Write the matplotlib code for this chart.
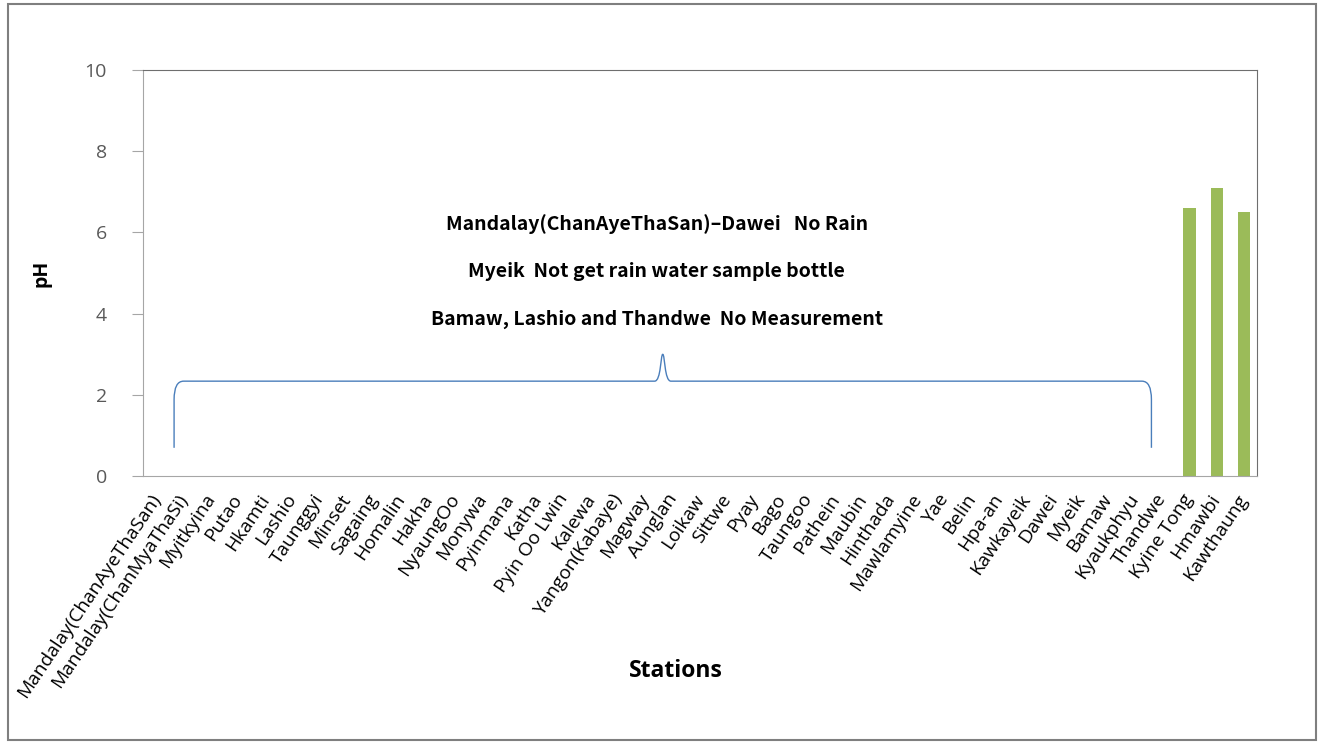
import matplotlib
matplotlib.use("Agg")
import matplotlib.pyplot as plt
from matplotlib.path import Path
from matplotlib.patches import PathPatch, Rectangle

stations = ["Mandalay(ChanAyeThaSan)", "Mandalay(ChanMyaThaSi)", "Myitkyina", "Putao",
            "Hkamti", "Lashio", "Taunggyi", "Minset", "Sagaing", "Homalin", "Hakha",
            "NyaungOo", "Monywa", "Pyinmana", "Katha", "Pyin Oo Lwin", "Kalewa",
            "Yangon(Kabaye)", "Magway", "Aunglan", "Loikaw", "Sittwe", "Pyay", "Bago",
            "Taungoo", "Pathein", "Maubin", "Hinthada", "Mawlamyine", "Yae", "Belin",
            "Hpa-an", "Kawkayeik", "Dawei", "Myeik", "Bamaw", "Kyaukphyu", "Thandwe",
            "Kyine Tong", "Hmawbi", "Kawthaung"]
ph_values = [0.0] * 38 + [6.6, 7.1, 6.5]
y_ticks = [0, 2, 4, 6, 8, 10]
notes = ["Mandalay(ChanAyeThaSan)\u2013Dawei   No Rain",
         "Myeik  Not get rain water sample bottle",
         "Bamaw, Lashio and Thandwe  No Measurement"]

fig = plt.figure(figsize=(13.25, 7.43), dpi=100)
ax = fig.add_axes([0.108, 0.359, 0.841, 0.547])

x = list(range(len(stations)))
ax.bar(x, ph_values, width=0.45, color="#9BBB59")
ax.set_xlim(-0.5, len(stations) - 0.5)
ax.set_ylim(0, 10)
ax.set_yticks(y_ticks)
ax.set_yticklabels([str(t) for t in y_ticks], fontsize=14, color="#595959",
                   family="Open Sans")
ax.tick_params(axis="y", length=8, color="#A6A6A6", pad=18)
ax.set_xticks(x)
ax.set_xticklabels(stations, rotation=56, ha="right", va="center",
                   rotation_mode="anchor", fontsize=13.8, family="Open Sans")
ax.tick_params(axis="x", length=0, pad=14)

for s in ["left", "bottom"]:
    ax.spines[s].set_color("#A6A6A6")
for s in ["top", "right"]:
    ax.spines[s].set_color("#6E6E6E")

ax.set_ylabel("pH", fontsize=14, fontweight="bold", family="Open Sans", labelpad=24)
ax.set_xlabel("Stations", fontsize=16.5, fontweight="bold", family="Open Sans")
ax.xaxis.set_label_coords(0.478, -0.45)

# brace
x0, x1 = 0.64, 36.6
xm = (x0 + x1) / 2
yb, yf, yp = 0.7, 2.34, 3.0
verts = [(x0, yb), (x0, yf - 0.45), (x0, yf), (x0 + 0.35, yf),
         (xm - 0.3, yf), (xm - 0.06, yf), (xm - 0.08, yp), (xm, yp),
         (xm + 0.08, yp), (xm + 0.06, yf), (xm + 0.3, yf),
         (x1 - 0.35, yf), (x1, yf), (x1, yf - 0.45), (x1, yb)]
codes = [Path.MOVETO, Path.LINETO, Path.CURVE3, Path.CURVE3,
         Path.LINETO, Path.CURVE4, Path.CURVE4, Path.CURVE4,
         Path.CURVE4, Path.CURVE4, Path.CURVE4,
         Path.LINETO, Path.CURVE3, Path.CURVE3, Path.LINETO]
ax.add_patch(PathPatch(Path(verts, codes), fill=False, edgecolor="#4A7EBB", lw=1.0))

for i, t in enumerate(notes):
    ax.text(18.4, 6.2 - i * 1.17, t, ha="center", va="center", fontsize=14,
            fontweight="bold", family=["Noto Sans CJK KR", "DejaVu Sans"])

fig.patches.append(Rectangle((0.006, 0.004), 0.987, 0.99, transform=fig.transFigure,
                             fill=False, edgecolor="#7F7F7F", lw=1.5))

fig.savefig("out.png", dpi=100)
